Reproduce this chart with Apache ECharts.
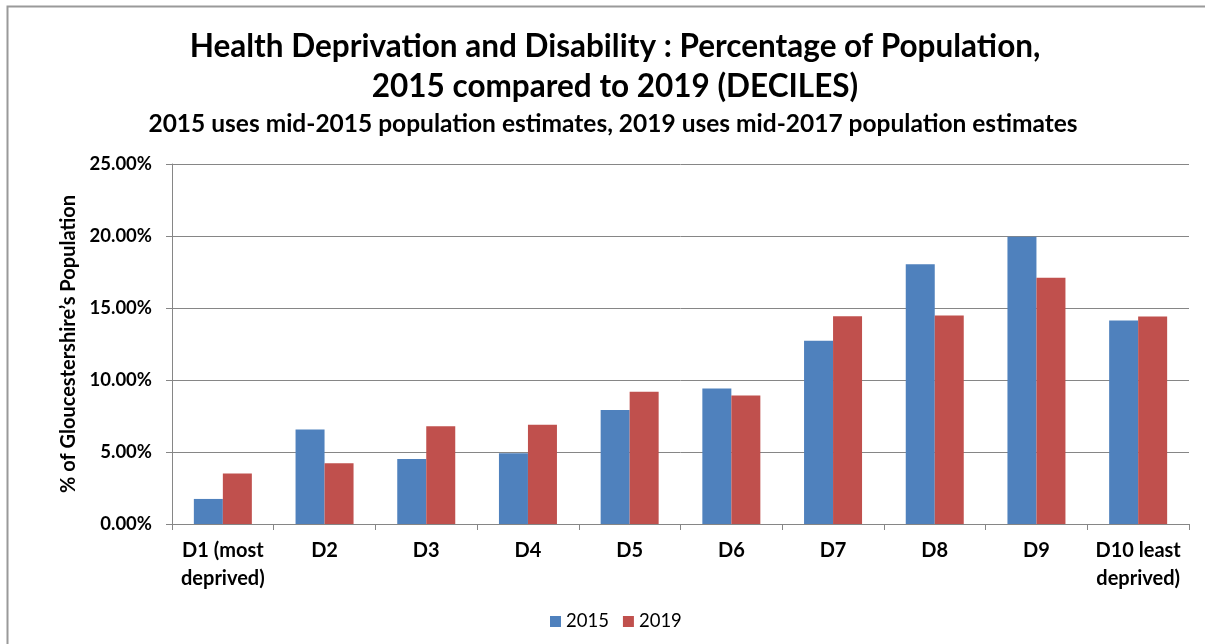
<!DOCTYPE html>
<html>
<head>
<meta charset="utf-8">
<style>
  html, body { margin: 0; padding: 0; background: #fff; }
  #chart { width: 1205px; height: 644px; }
</style>
<script src="https://cdn.jsdelivr.net/npm/echarts@6/dist/echarts.min.js"></script>
</head>
<body>
<div id="chart"></div>
<script>
// Deciles of health deprivation, share of Gloucestershire's population
const categories = ['D1 (most\ndeprived)', 'D2', 'D3', 'D4', 'D5', 'D6', 'D7', 'D8', 'D9', 'D10 least\ndeprived)'];
const values2015 = [1.74, 6.56, 4.52, 4.91, 7.92, 9.41, 12.72, 18.03, 19.95, 14.13];
const values2019 = [3.50, 4.22, 6.79, 6.90, 9.18, 8.92, 14.43, 14.48, 17.10, 14.41];
const seriesNames = ['2015', '2019'];

const FONT = 'Lato, "Open Sans", "Liberation Sans", sans-serif';
const GRID_GREY = '#868686';

const chart = echarts.init(document.getElementById('chart'), null, { renderer: 'canvas' });

chart.setOption({
  backgroundColor: '#ffffff',
  animation: false,
  textStyle: { fontFamily: FONT, color: '#000' },
  title: [
    {
      text: 'Health Deprivation and Disability : Percentage of Population,\n2015 compared to 2019 (DECILES)',
      left: 610,
      textAlign: 'center',
      top: 22,
      textStyle: { fontFamily: FONT, fontSize: 31.5, fontWeight: 'bold', lineHeight: 40, color: '#000' }
    },
    {
      text: '2015 uses mid-2015 population estimates, 2019 uses mid-2017 population estimates',
      left: 608,
      textAlign: 'center',
      top: 107,
      textStyle: { fontFamily: FONT, fontSize: 24.5, fontWeight: 'bold', color: '#000' }
    }
  ],
  graphic: [
    {
      type: 'rect',
      shape: { x: 7.5, y: 6.5, width: 1220, height: 660 },
      style: { fill: null, stroke: '#9a9a9a', lineWidth: 2 },
      silent: true
    }
  ],
  legend: {
    data: seriesNames,
    bottom: 8,
    left: 545,
    itemWidth: 11,
    itemHeight: 11,
    itemGap: 14,
    icon: 'rect',
    textStyle: { fontFamily: FONT, fontSize: 18.5, color: '#000' }
  },
  grid: { left: 172, right: 16, top: 164, bottom: 120, containLabel: false },
  xAxis: {
    type: 'category',
    data: categories,
    axisLine: { show: true, lineStyle: { color: GRID_GREY, width: 1 } },
    axisTick: { show: true, length: 6, lineStyle: { color: GRID_GREY } },
    axisLabel: {
      interval: 0,
      margin: 13,
      fontFamily: FONT,
      fontSize: 20,
      fontWeight: 'bold',
      lineHeight: 28,
      color: '#000'
    }
  },
  yAxis: {
    type: 'value',
    min: 0,
    max: 25,
    interval: 5,
    name: '% of Gloucestershire\u2019s Population',
    nameLocation: 'middle',
    nameGap: 90,
    nameRotate: 90,
    nameTextStyle: { fontFamily: FONT, fontSize: 20, fontWeight: 'bold', color: '#000' },
    axisLine: { show: true, lineStyle: { color: GRID_GREY, width: 1 } },
    axisTick: { show: true, length: 6, lineStyle: { color: GRID_GREY } },
    splitLine: { show: true, lineStyle: { color: GRID_GREY, width: 1 } },
    axisLabel: {
      margin: 20,
      fontFamily: FONT,
      fontSize: 18.5,
      fontWeight: 'bold',
      color: '#000',
      formatter: v => v.toFixed(2) + '%'
    }
  },
  series: [
    {
      name: seriesNames[0],
      type: 'bar',
      data: values2015,
      barWidth: 29,
      barGap: '0%',
      itemStyle: { color: '#4F81BD' }
    },
    {
      name: seriesNames[1],
      type: 'bar',
      data: values2019,
      barWidth: 29,
      barGap: '0%',
      itemStyle: { color: '#C0504D' }
    }
  ]
});
</script>
</body>
</html>
